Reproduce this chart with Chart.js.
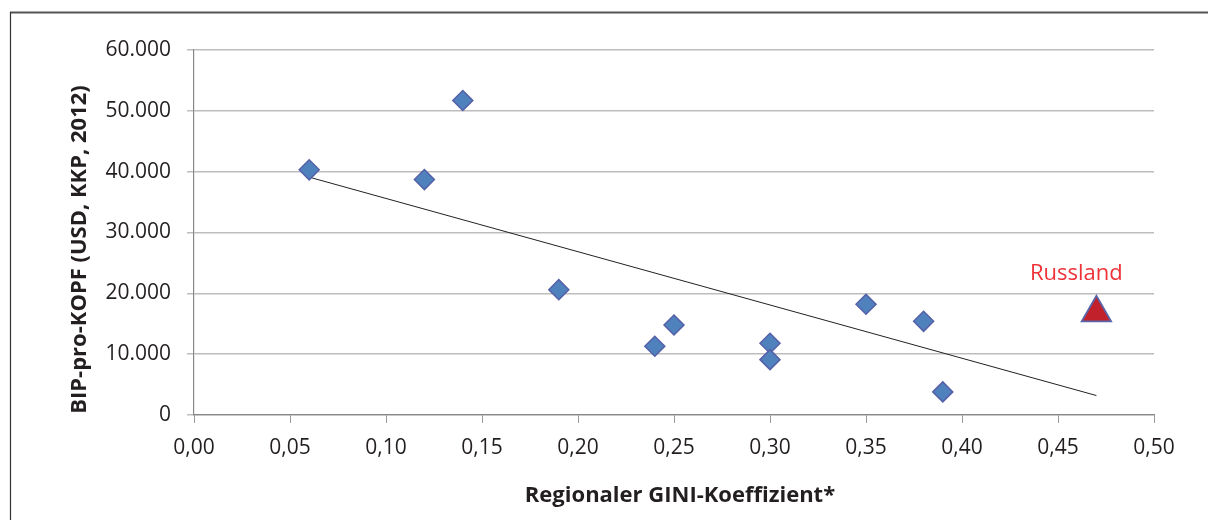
<!DOCTYPE html>
<html lang="de">
<head>
<meta charset="utf-8">
<title>BIP pro Kopf vs. regionaler GINI-Koeffizient</title>
<script src="https://cdn.jsdelivr.net/npm/chart.js@4/dist/chart.umd.min.js"></script>
<style>
    html, body { margin: 0; padding: 0; background: #ffffff; }
    canvas { display: block; }
</style>
</head>
<body>
<canvas id="giniChart" width="1208" height="520"></canvas>
<script>
// regions (diamonds)
const giniValues = [0.06, 0.12, 0.14, 0.19, 0.24, 0.25, 0.30, 0.30, 0.35, 0.38, 0.39];
const gdpValues = [40300, 38700, 51700, 20600, 11300, 14800, 11800, 9100, 18200, 15400, 3800];

// Russia (triangle)
const russiaLabel = "Russland";
const russiaGini = [0.47];
const russiaGdp = [16800];

// linear trend line, endpoints
const trendGini = [0.06, 0.47];
const trendGdp = [39100, 3200];

// axes
const xTickStep = 0.05;
const xMin = 0;
const xMax = 0.5;
const yTickStep = 10000;
const yMin = 0;
const yMax = 60000;

const xTitle = "Regionaler GINI-Koeffizient*";
const yTitle = "BIP-pro-KOPF (USD, KKP, 2012)";

let giniChartInstance = null;

function toPoints(xs, ys) {
    return xs.map((x, i) => ({ x: x, y: ys[i] }));
}

function formatThousands(v) {
    return String(Math.round(v)).replace(/\B(?=(\d{3})+(?!\d))/g, ".");
}

const framePlugin = {
    id: "frame",
    beforeDraw(chart) {
        const ctx = chart.ctx;
        ctx.save();
        ctx.fillStyle = "#ffffff";
        ctx.fillRect(0, 0, chart.width, chart.height);
        ctx.strokeStyle = "#555555";
        ctx.lineWidth = 2;
        ctx.beginPath();
        ctx.moveTo(10, 12.5);
        ctx.lineTo(chart.width, 12.5);
        ctx.stroke();
        ctx.strokeStyle = "#333333";
        ctx.lineWidth = 1.2;
        ctx.beginPath();
        ctx.moveTo(10.5, 12);
        ctx.lineTo(10.5, chart.height);
        ctx.stroke();
        ctx.restore();
    }
};

const labelsPlugin = {
    id: "labels",
    afterDatasetsDraw(chart) {
        const ctx = chart.ctx;
        const area = chart.chartArea;
        ctx.save();

        // axis titles
        ctx.fillStyle = "#231f20";
        ctx.font = "bold 22px 'Open Sans'";
        ctx.textAlign = "center";
        ctx.textBaseline = "alphabetic";
        ctx.fillText(xTitle, (area.left + area.right) / 2 + 6, 501.5);

        ctx.translate(86, 249.5);
        ctx.rotate(-Math.PI / 2);
        ctx.fillText(yTitle, 0, 0);
        ctx.setTransform(1, 0, 0, 1, 0, 0);

        // Russia label
        const meta = chart.getDatasetMeta(1);
        const pt = meta.data[0];
        if (pt) {
            ctx.fillStyle = "#ee3338";
            ctx.font = "22px 'Open Sans'";
            ctx.textAlign = "center";
            ctx.textBaseline = "alphabetic";
            ctx.fillText(russiaLabel, pt.x - 20, pt.y - 32.5);
        }
        ctx.restore();
    }
};

function loadGiniChart() {

    const ctx = document.getElementById("giniChart");
    if (!ctx) return;

    if (giniChartInstance) giniChartInstance.destroy();

    giniChartInstance = new Chart(ctx, {
        type: "scatter",
        data: {
            datasets: [{
                label: "Regionen",
                data: toPoints(giniValues, gdpValues),
                pointStyle: "rectRot",
                pointRadius: 10,
                pointHoverRadius: 10,
                backgroundColor: "#4f81bd",
                borderColor: "#5560a8",
                borderWidth: 1.5,
                order: 1
            }, {
                label: russiaLabel,
                data: toPoints(russiaGini, russiaGdp),
                pointStyle: "triangle",
                pointRadius: 17,
                pointHoverRadius: 17,
                backgroundColor: "#c0212a",
                borderColor: "#5a64a8",
                borderWidth: 1.8,
                order: 1
            }, {
                label: "Trend",
                data: toPoints(trendGini, trendGdp),
                showLine: true,
                pointRadius: 0,
                borderColor: "#222222",
                borderWidth: 1,
                order: 2
            }]
        },
        options: {
            responsive: false,
            animation: false,
            layout: {
                padding: { left: 0, right: 54, top: 50, bottom: 0 }
            },
            plugins: {
                legend: { display: false },
                tooltip: { enabled: false }
            },
            scales: {
                x: {
                    type: "linear",
                    min: xMin,
                    max: xMax,
                    afterFit(scale) { scale.height = 105; },
                    ticks: {
                        stepSize: xTickStep,
                        padding: 12,
                        color: "#231f20",
                        font: { family: "'Open Sans'", size: 21 },
                        callback: (v) => Number(v).toFixed(2).replace(".", ",")
                    },
                    grid: {
                        drawOnChartArea: false,
                        drawTicks: true,
                        tickLength: 8,
                        color: "#9a9a9a"
                    },
                    border: { display: true, color: "#888888", width: 1.2 }
                },
                y: {
                    min: yMin,
                    max: yMax,
                    afterFit(scale) { scale.width = 194; },
                    ticks: {
                        stepSize: yTickStep,
                        padding: 16,
                        color: "#231f20",
                        font: { family: "'Open Sans'", size: 21 },
                        callback: (v) => formatThousands(v)
                    },
                    grid: {
                        drawTicks: true,
                        tickLength: 7,
                        color: "#bdbdbd",
                        lineWidth: 1.5
                    },
                    border: { display: true, color: "#888888", width: 1.2 }
                }
            }
        },
        plugins: [framePlugin, labelsPlugin]
    });
}

document.addEventListener("DOMContentLoaded", () => {
    loadGiniChart();
});
</script>
</body>
</html>
